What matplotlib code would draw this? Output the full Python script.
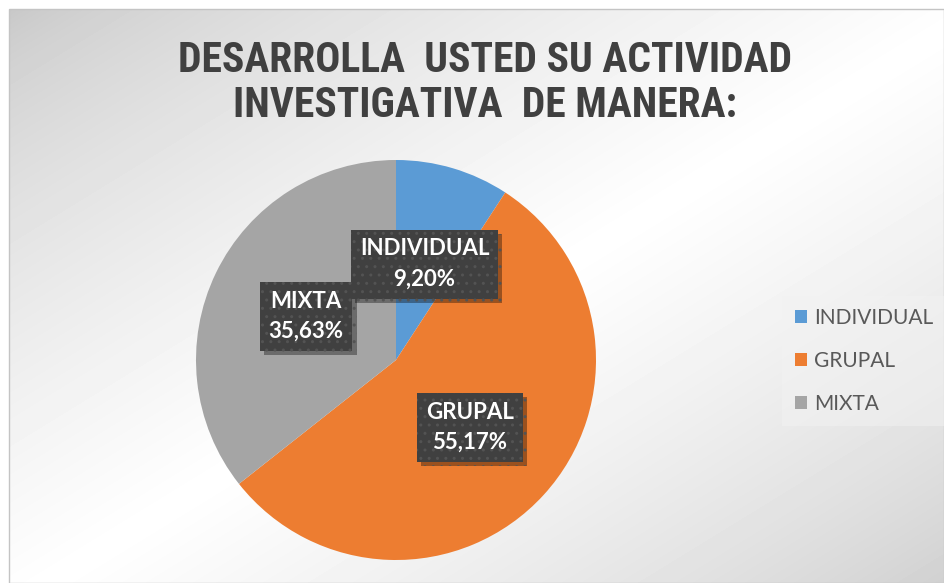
"""Pie chart: modo de actividad investigativa"""
import numpy as np
import matplotlib.pyplot as plt
from matplotlib import font_manager
from matplotlib import patheffects as pe
from matplotlib.patches import Rectangle

categories = ['INDIVIDUAL', 'GRUPAL', 'MIXTA']
percentages = [9.20, 55.17, 35.63]
colors = ['#5B9BD5', '#ED7D31', '#A5A5A5']
title_lines = ['DESARROLLA  USTED SU ACTIVIDAD', 'INVESTIGATIVA  DE MANERA:']

W, H = 944, 583
BODY_FONT = ['Lato', 'DejaVu Sans']

# narrow font if there is one, otherwise plain Liberation Sans a bit smaller
installed = {f.name for f in font_manager.fontManager.ttflist}
title_size = 27
TITLE_FONT = ['Liberation Sans', 'DejaVu Sans']
for name in ['Liberation Sans Narrow', 'Arial Narrow', 'Roboto Condensed']:
    if name in installed:
        TITLE_FONT = [name, 'DejaVu Sans']
        title_size = 30
        break

fig = plt.figure(figsize=(W / 100, H / 100), dpi=100)
fig.patch.set_facecolor('white')

# chart area with diagonal gray gradient
bg = fig.add_axes([9 / W, 0, (W - 9) / W, (H - 9) / H])
bg.set_axis_off()
yy, xx = np.mgrid[0:H - 9, 0:W - 9]
t = (xx / (W - 9) + yy / (H - 9)) / 2
shade = np.clip(1 - np.abs(t - 0.52) / 0.52, 0, 1)
bg.imshow(0.78 + 0.22 * shade ** 0.7, cmap='gray', vmin=0, vmax=1,
          aspect='auto', interpolation='bilinear')
fig.patches.append(Rectangle((9 / W, 0), (W - 9) / W, (H - 9) / H,
                             transform=fig.transFigure, fill=False,
                             edgecolor='#c4c4c4', linewidth=1))

# pie
ax = fig.add_axes([196 / W, (H - 560) / H, 400 / W, 400 / H])
wedges, _ = ax.pie(percentages, colors=colors, startangle=90,
                   counterclock=False, radius=1,
                   wedgeprops=dict(linewidth=0))
ax.set_xlim(-1, 1)
ax.set_ylim(-1, 1)

zorders = [6, 5, 4]
for w, cat, pct, z in zip(wedges, categories, percentages, zorders):
    ang = np.deg2rad((w.theta1 + w.theta2) / 2)
    label = f"{cat}\n{pct:.2f}%".replace('.', ',')
    txt = ax.text(0.5 * np.cos(ang), 0.5 * np.sin(ang), label,
                  ha='center', va='center', color='white', fontsize=16,
                  fontweight='bold', family=BODY_FONT, linespacing=1.55,
                  zorder=z,
                  bbox=dict(boxstyle='square,pad=0.4', fc='#404040',
                            ec='#535353', lw=0, hatch='..'))
    txt.get_bbox_patch().set_path_effects(
        [pe.SimplePatchShadow(offset=(3, -3), shadow_rgbFace='black', alpha=0.35),
         pe.Normal()])

# title
fig.text(485 / W, 1 - 72 / H, title_lines[0], ha='center', va='baseline',
         fontsize=title_size, fontweight='bold', color='#404040', family=TITLE_FONT)
fig.text(485 / W, 1 - 117 / H, title_lines[1], ha='center', va='baseline',
         fontsize=title_size, fontweight='bold', color='#404040', family=TITLE_FONT)

# legend
leg = fig.legend(wedges, categories, loc='center left',
                 bbox_to_anchor=(782 / W, 1 - 361 / H), frameon=True,
                 prop=dict(family=BODY_FONT, size=15), labelspacing=1.1,
                 handlelength=0.6, handleheight=0.6, handletextpad=0.35,
                 borderpad=0.6, borderaxespad=0, fancybox=False)
leg.get_frame().set_facecolor('#f2f2f2')
leg.get_frame().set_alpha(0.5)
leg.get_frame().set_linewidth(0)
for text in leg.get_texts():
    text.set_color('#595959')

fig.savefig('out.png', dpi=100)
